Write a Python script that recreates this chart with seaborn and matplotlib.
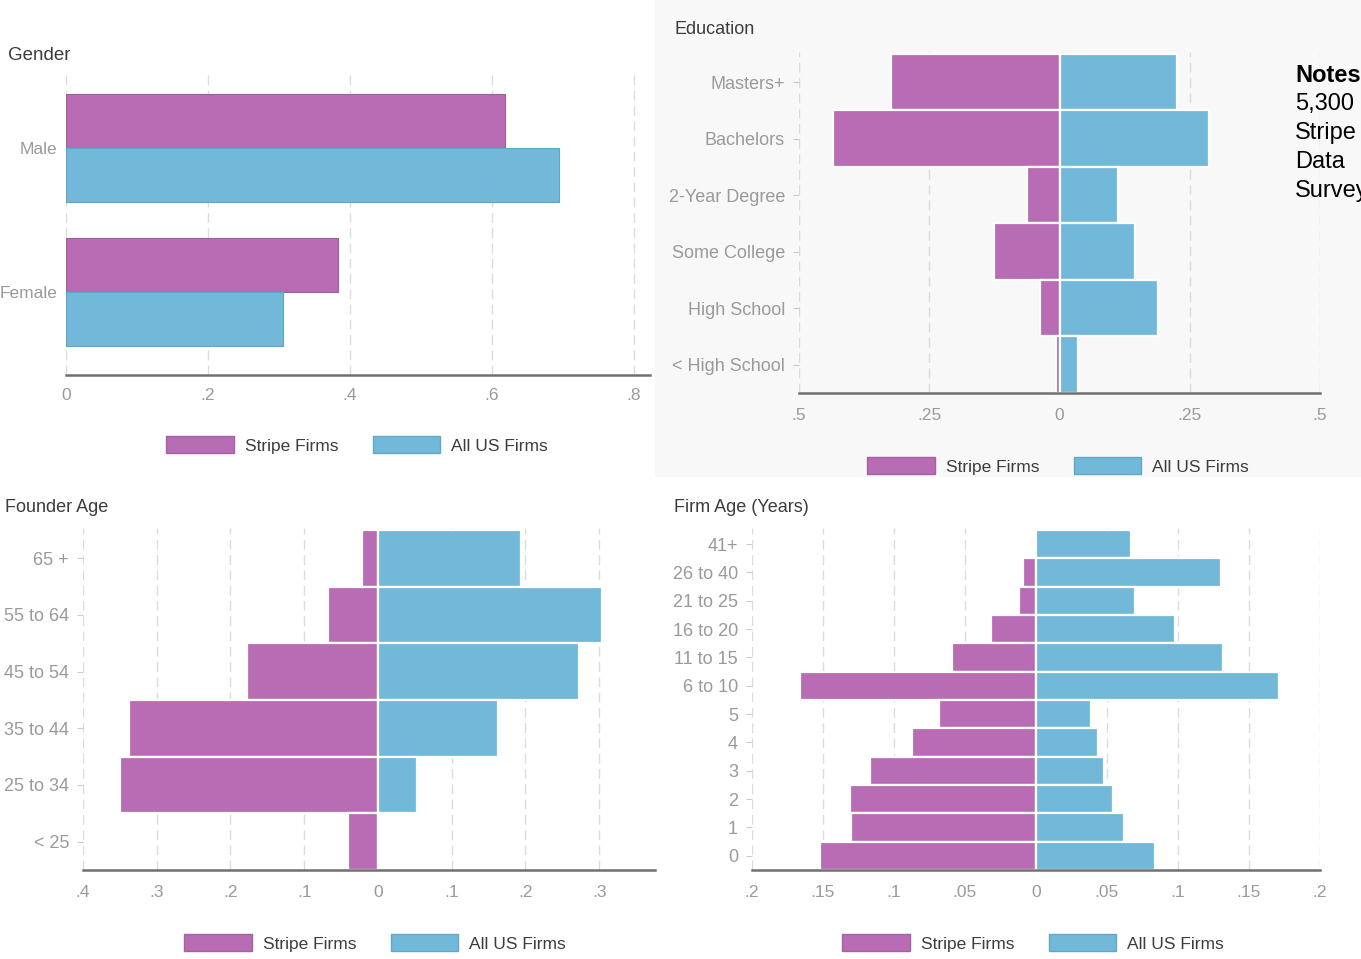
import matplotlib
matplotlib.use("Agg")
import matplotlib.pyplot as plt
from matplotlib.patches import Patch, Rectangle
import seaborn as sns
import pandas as pd

# ---------------- data ----------------
series = ["Stripe Firms", "All US Firms"]

gender_cats = ["Male", "Female"]
gender_stripe = [0.618, 0.383]
gender_us = [0.694, 0.306]
gender_ticks = [0, 0.2, 0.4, 0.6, 0.8]
gender_ticklabels = ["0", ".2", ".4", ".6", ".8"]

edu_cats = ["Masters+", "Bachelors", "2-Year Degree", "Some College", "High School", "< High School"]
edu_stripe = [0.323, 0.435, 0.062, 0.125, 0.037, 0.006]
edu_us = [0.225, 0.287, 0.113, 0.144, 0.190, 0.035]
edu_ticks = [-0.5, -0.25, 0, 0.25, 0.5]
edu_ticklabels = [".5", ".25", "0", ".25", ".5"]

fage_cats = ["65 +", "55 to 64", "45 to 54", "35 to 44", "25 to 34", "< 25"]
fage_stripe = [0.022, 0.068, 0.178, 0.338, 0.350, 0.041]
fage_us = [0.194, 0.304, 0.273, 0.163, 0.053, 0.003]
fage_ticks = [-0.4, -0.3, -0.2, -0.1, 0, 0.1, 0.2, 0.3]
fage_ticklabels = [".4", ".3", ".2", ".1", "0", ".1", ".2", ".3"]

firm_cats = ["41+", "26 to 40", "21 to 25", "16 to 20", "11 to 15", "6 to 10", "5", "4", "3", "2", "1", "0"]
firm_stripe = [0.0, 0.009, 0.012, 0.032, 0.059, 0.166, 0.068, 0.087, 0.117, 0.131, 0.130, 0.152]
firm_us = [0.067, 0.130, 0.070, 0.098, 0.132, 0.171, 0.039, 0.044, 0.048, 0.054, 0.062, 0.084]
firm_ticks = [-0.2, -0.15, -0.1, -0.05, 0, 0.05, 0.1, 0.15, 0.2]
firm_ticklabels = [".2", ".15", ".1", ".05", "0", ".05", ".1", ".15", ".2"]

notes_lines = ["5,300", "Stripe", "Data", "Survey"]

# ---------------- style ----------------
STRIPE = "#b76cb4"
US = "#72b8d8"
palette = {series[0]: STRIPE, series[1]: US}
TICKC = "#9a9a9a"
TITLEC = "#3c3c3c"
GRIDC = "#dcdcdc"
AXC = "#707070"

sns.set_theme(style="white")
plt.rcParams["font.family"] = ["Liberation Sans", "DejaVu Sans"]

W, H = 1361, 959
fig = plt.figure(figsize=(W / 100, H / 100), dpi=100)
fig.patch.set_facecolor("white")


def rect(x0, y0, x1, y1):
    return [x0 / W, 1 - y1 / H, (x1 - x0) / W, (y1 - y0) / H]


# light gray panel behind Education
fig.add_artist(Rectangle((655 / W, 1 - 477 / H), (W - 655) / W, 477 / H,
                         transform=fig.transFigure, facecolor="#f8f8f9",
                         edgecolor="none", zorder=0))


def style_axes(ax, ticks, labels, xlim, ylim, ytickmarks=True, ylabsize=13, xpad=11):
    ax.set_facecolor("none")
    ax.set_xlim(*xlim)
    ax.set_ylim(*ylim)
    ax.set_xticks(ticks)
    ax.set_xticklabels(labels)
    for t in ticks:
        ax.axvline(t, color=GRIDC, lw=1, ls=(0, (7, 4)), zorder=0)
    for s in ["top", "right", "left"]:
        ax.spines[s].set_visible(False)
    ax.spines["bottom"].set_color(AXC)
    ax.spines["bottom"].set_linewidth(1.8)
    ax.tick_params(axis="x", length=0, pad=xpad, labelsize=12.5, labelcolor=TICKC)
    ax.tick_params(axis="y", length=4 if ytickmarks else 0, width=0.8,
                   color="#cccccc", pad=6, labelsize=ylabsize, labelcolor=TICKC, left=ytickmarks)
    ax.set_xlabel("")
    ax.set_ylabel("")
    ax.grid(False)


def add_legend(cx, cy):
    handles = [Patch(facecolor=STRIPE, edgecolor="#a561a2"), Patch(facecolor=US, edgecolor="#64a8c8")]
    fig.legend(handles, series, loc="center", bbox_to_anchor=(cx / W, 1 - cy / H),
               ncol=2, frameon=False, fontsize=12.5, handlelength=3.9, handleheight=1.1,
               handletextpad=0.6, columnspacing=2.0, labelcolor=TITLEC)


# ---------------- Gender ----------------
ax1 = fig.add_axes(rect(66, 70, 650, 375))
df_g = pd.DataFrame({
    "cat": gender_cats * 2,
    "share": gender_stripe + gender_us,
    "group": [series[0]] * 2 + [series[1]] * 2,
})
sns.barplot(data=df_g, x="share", y="cat", hue="group", orient="h", palette=palette,
            width=0.75, ax=ax1, legend=False, saturation=1, edgecolor="#9f5e9f", linewidth=0.8)
for p in ax1.patches[len(gender_cats):]:
    p.set_edgecolor("#5fa6c8")
style_axes(ax1, gender_ticks, gender_ticklabels, (0, 0.8225), (1.576, -0.542),
           ytickmarks=False, ylabsize=12.5, xpad=9)
fig.text(8 / W, 1 - 55 / H, "Gender", fontsize=13.5, color=TITLEC, va="center", ha="left")
add_legend(357, 445)


def butterfly(axrect, cats, stripe, us, ticks, labels, xlim, ylim, title, tpos, lpos):
    ax = fig.add_axes(rect(*axrect))
    df = pd.DataFrame({
        "cat": cats * 2,
        "share": [-v for v in stripe] + list(us),
        "group": [series[0]] * len(cats) + [series[1]] * len(cats),
    })
    sns.barplot(data=df, x="share", y="cat", hue="group", orient="h", palette=palette,
                dodge=False, width=1.0, ax=ax, legend=False, saturation=1,
                edgecolor="white", linewidth=1.6)
    style_axes(ax, ticks, labels, xlim, ylim)
    for p in ax.patches:
        p.set_zorder(2)
    fig.text(tpos[0] / W, 1 - tpos[1] / H, title, fontsize=13, color=TITLEC, va="center", ha="left")
    add_legend(*lpos)
    return ax


butterfly((799, 52, 1320, 393), edu_cats, edu_stripe, edu_us, edu_ticks, edu_ticklabels,
          (-0.5, 0.5), (5.5, -0.535), "Education", (674, 30), (1058, 466))
butterfly((83, 528, 655, 870), fage_cats, fage_stripe, fage_us, fage_ticks, fage_ticklabels,
          (-0.4, 0.3756), (5.5, -0.535), "Founder Age", (5, 507), (375, 943))
butterfly((752, 528, 1320, 870), firm_cats, firm_stripe, firm_us, firm_ticks, firm_ticklabels,
          (-0.2, 0.2), (11.5, -0.57), "Firm Age (Years)", (674, 507), (1033, 943))

# ---------------- Notes ----------------
fig.text(1295 / W, 1 - 75 / H, "Notes", fontsize=17, fontweight="bold", color="black",
         va="center", ha="left")
for i, line in enumerate(notes_lines):
    fig.text(1295 / W, 1 - (104 + 29 * i) / H, line, fontsize=17, color="black",
             va="center", ha="left")

fig.savefig("out.png", dpi=100)
